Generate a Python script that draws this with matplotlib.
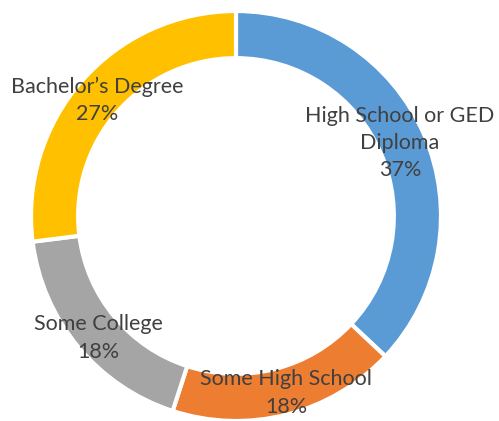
import matplotlib
matplotlib.use("Agg")
import matplotlib.pyplot as plt

categories = ["High School or GED\nDiploma", "Some High School", "Some College", "Bachelor\u2019s Degree"]
values = [37, 18, 18, 27]
colors = ["#5B9BD5", "#ED7D31", "#A5A5A5", "#FFC000"]
# label centre positions in pixels (x, y from top)
label_pos = [(400, 143), (286, 393), (98, 338), (97, 100)]

W, H = 499, 421
fig = plt.figure(figsize=(W / 100, H / 100), dpi=100)
cx, cy, R = 236, 216, 205
ax = fig.add_axes([(cx - R) / W, (H - cy - R) / H, 2 * R / W, 2 * R / H])
ax.pie(values, colors=colors, startangle=90, counterclock=False,
       radius=1.0, wedgeprops=dict(width=0.23, edgecolor="white", linewidth=3))
ax.set_xlim(-1, 1)
ax.set_ylim(-1, 1)
ax.set_aspect("equal")
ax.axis("off")

total = sum(values)
for cat, v, (px, py) in zip(categories, values, label_pos):
    fig.text(px / W, 1 - py / H, f"{cat}\n{round(100 * v / total)}%",
             ha="center", va="center", fontsize=15.5, family="Lato",
             color="#404040", linespacing=1.45)

fig.savefig("out.png", dpi=100)
